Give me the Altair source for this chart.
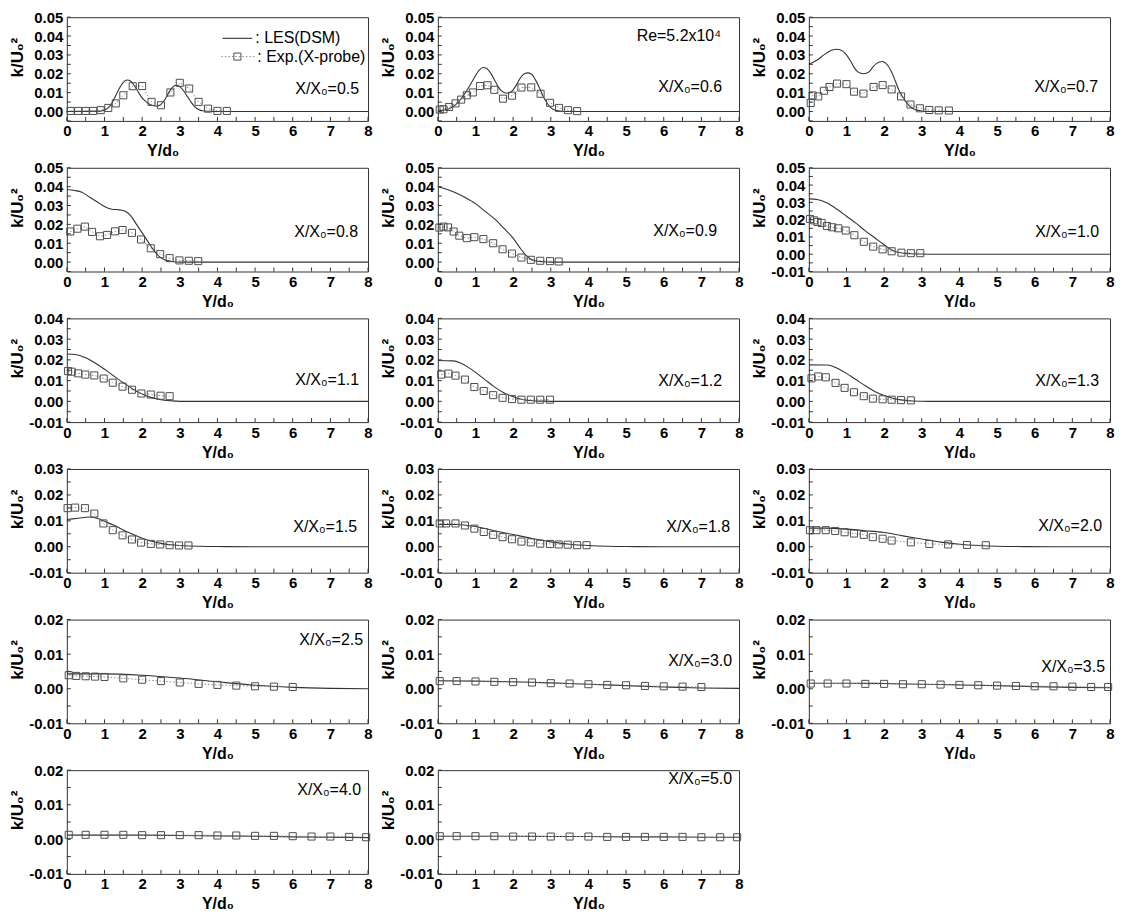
import altair as alt
import pandas as pd

# ---------------- data ----------------
panel_names = ["0.5", "0.6", "0.7", "0.8", "0.9", "1.0", "1.1", "1.2", "1.3",
               "1.5", "1.8", "2.0", "2.5", "3.0", "3.5", "4.0", "5.0"]
y_min = [-0.005, -0.005, -0.005, -0.005, -0.005, -0.01, -0.01, -0.01, -0.01,
         -0.01, -0.01, -0.01, -0.01, -0.01, -0.01, -0.01, -0.01]
y_max = [0.05, 0.05, 0.05, 0.05, 0.05, 0.05, 0.04, 0.04, 0.04,
         0.03, 0.03, 0.03, 0.02, 0.02, 0.02, 0.02, 0.02]

x_label_vals = [0, 1, 2, 3, 4, 5, 6, 7, 8]
x_tick_vals = [0, 0.5, 1, 1.5, 2, 2.5, 3, 3.5, 4, 4.5, 5, 5.5, 6, 6.5, 7, 7.5, 8]
y_label_vals = [-0.01, 0.0, 0.01, 0.02, 0.03, 0.04, 0.05]
y_tick_vals = [-0.01, -0.005, 0.0, 0.005, 0.01, 0.015, 0.02, 0.025, 0.03,
               0.035, 0.04, 0.045, 0.05]

# X/X0 = 0.5
les_x_05 = [0, 0.9, 1.0, 1.1, 1.2, 1.3, 1.4, 1.5, 1.6, 1.7, 1.8, 1.9, 2.0, 2.1, 2.2,
            2.3, 2.4, 2.5, 2.6, 2.7, 2.8, 2.9, 3.0, 3.1, 3.2, 3.3, 3.4, 3.5, 3.6,
            3.8, 4.0, 8.0]
les_y_05 = [0, 0.0002, 0.0008, 0.002, 0.0045, 0.0085, 0.0125, 0.0155, 0.0167, 0.016,
            0.0135, 0.0102, 0.0072, 0.0052, 0.0038, 0.003, 0.0028, 0.0038, 0.0062,
            0.0098, 0.0127, 0.0139, 0.0132, 0.011, 0.008, 0.005, 0.0025, 0.0011,
            0.0004, 0.0001, 0, 0]
exp_x_05 = [0.1, 0.3, 0.5, 0.7, 0.9, 1.1, 1.3, 1.5, 1.75, 2.0, 2.25, 2.5, 2.75, 3.0,
            3.25, 3.5, 3.75, 4.0, 4.25]
exp_y_05 = [0.0003, 0.0003, 0.0003, 0.0003, 0.0007, 0.0019, 0.0043, 0.0086, 0.0134,
            0.0135, 0.0051, 0.0033, 0.0101, 0.0152, 0.0122, 0.0051, 0.0015, 0.0003,
            0.0003]

# X/X0 = 0.6
les_x_06 = [0, 0.3, 0.5, 0.7, 0.9, 1.0, 1.1, 1.2, 1.3, 1.4, 1.5, 1.6, 1.7, 1.8, 1.9,
            2.0, 2.1, 2.2, 2.3, 2.4, 2.5, 2.6, 2.7, 2.8, 2.9, 3.0, 3.1, 3.3, 3.5, 8.0]
les_y_06 = [0.0003, 0.0015, 0.004, 0.009, 0.0155, 0.019, 0.022, 0.0233, 0.0228,
            0.0205, 0.017, 0.0132, 0.0108, 0.0098, 0.0098, 0.0115, 0.0145, 0.018,
            0.02, 0.0205, 0.0195, 0.0165, 0.0125, 0.008, 0.0045, 0.002, 0.0008,
            0.0001, 0, 0]
exp_x_06 = [0.05, 0.15, 0.3, 0.47, 0.62, 0.77, 0.93, 1.12, 1.32, 1.5, 1.73, 1.97,
            2.22, 2.48, 2.73, 2.98, 3.22, 3.46, 3.7]
exp_y_06 = [0.001, 0.0012, 0.0024, 0.0043, 0.0063, 0.0086, 0.0101, 0.0135, 0.0139,
            0.0115, 0.0068, 0.0084, 0.0127, 0.0128, 0.0094, 0.0046, 0.0019, 0.0007,
            0.0002]

# X/X0 = 0.7
les_x_07 = [0, 0.2, 0.4, 0.6, 0.75, 0.9, 1.0, 1.1, 1.2, 1.3, 1.45, 1.6, 1.7, 1.8,
            1.95, 2.05, 2.2, 2.3, 2.4, 2.5, 2.6, 2.7, 2.8, 3.0, 3.2, 8.0]
les_y_07 = [0.025, 0.027, 0.030, 0.0325, 0.033, 0.032, 0.030, 0.027, 0.0235, 0.021,
            0.020, 0.021, 0.0235, 0.0255, 0.0265, 0.0255, 0.021, 0.016, 0.011,
            0.0075, 0.0045, 0.0025, 0.0012, 0.0003, 0, 0]
exp_x_07 = [0.05, 0.1, 0.25, 0.4, 0.55, 0.75, 1.0, 1.2, 1.45, 1.72, 1.96, 2.2, 2.45,
            2.7, 2.95, 3.2, 3.45, 3.72]
exp_y_07 = [0.0045, 0.0085, 0.008, 0.011, 0.013, 0.0148, 0.0145, 0.0105, 0.0095,
            0.013, 0.014, 0.0117, 0.008, 0.0037, 0.0017, 0.0008, 0.0006, 0.0005]

# X/X0 = 0.8
les_x_08 = [0, 0.2, 0.4, 0.6, 0.8, 1.0, 1.2, 1.4, 1.55, 1.7, 1.85, 2.0, 2.15, 2.3,
            2.45, 2.6, 2.8, 3.0, 8.0]
les_y_08 = [0.0385, 0.038, 0.037, 0.0345, 0.032, 0.0295, 0.028, 0.0277, 0.027,
            0.0245, 0.020, 0.0155, 0.011, 0.0065, 0.003, 0.0012, 0.0003, 0, 0]
exp_x_08 = [0.09, 0.28, 0.48, 0.67, 0.88, 1.07, 1.28, 1.48, 1.73, 1.97, 2.23, 2.48,
            2.73, 2.99, 3.24, 3.49]
exp_y_08 = [0.0162, 0.0177, 0.0188, 0.016, 0.0137, 0.0144, 0.0163, 0.017, 0.0155,
            0.012, 0.0073, 0.0042, 0.0021, 0.0009, 0.0007, 0.0005]

# X/X0 = 0.9
les_x_09 = [0, 0.25, 0.5, 0.75, 1.0, 1.25, 1.5, 1.75, 2.0, 2.15, 2.3, 2.45, 2.6, 2.8,
            3.0, 8.0]
les_y_09 = [0.040, 0.0385, 0.0365, 0.034, 0.031, 0.027, 0.023, 0.018, 0.0127,
            0.0085, 0.0045, 0.0018, 0.0006, 0.0002, 0, 0]
exp_x_09 = [0.04, 0.15, 0.27, 0.42, 0.57, 0.77, 0.97, 1.21, 1.47, 1.72, 1.97, 2.22,
            2.47, 2.72, 2.98, 3.21]
exp_y_09 = [0.0183, 0.0188, 0.0184, 0.0162, 0.014, 0.0127, 0.0132, 0.0122, 0.010,
            0.0068, 0.0045, 0.0024, 0.0012, 0.0007, 0.0005, 0.0003]

# X/X0 = 1.0
les_x_10 = [0, 0.25, 0.5, 0.75, 1.0, 1.25, 1.5, 1.75, 2.0, 2.2, 2.4, 2.7, 3.0, 3.4, 8.0]
les_y_10 = [0.032, 0.0315, 0.0295, 0.026, 0.022, 0.018, 0.0135, 0.0095, 0.0055,
            0.0025, 0.001, 0.0003, 0.0001, 0, 0]
exp_x_10 = [0.03, 0.14, 0.23, 0.34, 0.48, 0.62, 0.78, 0.98, 1.21, 1.46, 1.71, 1.96,
            2.2, 2.46, 2.71, 2.96]
exp_y_10 = [0.0204, 0.0196, 0.0187, 0.0181, 0.0163, 0.0156, 0.015, 0.0137, 0.011,
            0.0072, 0.0044, 0.0028, 0.0017, 0.0009, 0.0006, 0.0006]

# X/X0 = 1.1
les_x_11 = [0, 0.25, 0.5, 0.75, 1.0, 1.25, 1.5, 1.75, 2.0, 2.25, 2.5, 2.75, 3.0, 8.0]
les_y_11 = [0.0228, 0.0225, 0.021, 0.0185, 0.0155, 0.0122, 0.009, 0.006, 0.0035,
            0.0018, 0.0008, 0.0003, 0, 0]
exp_x_11 = [0.03, 0.13, 0.3, 0.49, 0.73, 0.98, 1.22, 1.48, 1.73, 1.98, 2.23, 2.49, 2.73]
exp_y_11 = [0.0146, 0.0143, 0.0135, 0.0129, 0.0125, 0.011, 0.009, 0.0071, 0.0056,
            0.0038, 0.0033, 0.0027, 0.0025]

# X/X0 = 1.2
les_x_12 = [0, 0.4, 0.6, 0.8, 1.0, 1.25, 1.5, 1.75, 2.0, 2.25, 2.5, 2.8, 3.2, 8.0]
les_y_12 = [0.0197, 0.0195, 0.0185, 0.0165, 0.014, 0.0105, 0.007, 0.0042, 0.0022,
            0.0009, 0.0003, 0.0001, 0, 0]
exp_x_12 = [0.09, 0.28, 0.47, 0.72, 0.97, 1.22, 1.47, 1.72, 1.97, 2.22, 2.47, 2.72, 2.98]
exp_y_12 = [0.0129, 0.0134, 0.0124, 0.0105, 0.0069, 0.005, 0.003, 0.0017, 0.0011,
            0.0008, 0.0008, 0.0008, 0.0008]

# X/X0 = 1.3
les_x_13 = [0, 0.5, 0.75, 1.0, 1.25, 1.5, 1.75, 2.0, 2.25, 2.5, 2.75, 3.2, 8.0]
les_y_13 = [0.0176, 0.0175, 0.016, 0.0135, 0.0105, 0.0075, 0.0048, 0.0028, 0.0014,
            0.0006, 0.0002, 0, 0]
exp_x_13 = [0.07, 0.25, 0.45, 0.71, 0.95, 1.2, 1.46, 1.7, 1.96, 2.2, 2.45, 2.71]
exp_y_13 = [0.0111, 0.012, 0.0116, 0.0089, 0.0065, 0.0044, 0.0025, 0.0013, 0.001,
            0.0008, 0.0006, 0.0005]

# X/X0 = 1.5
les_x_15 = [0, 0.3, 0.6, 0.8, 1.0, 1.25, 1.5, 1.75, 2.0, 2.25, 2.5, 2.75, 3.0, 3.5,
            4.0, 5.0, 8.0]
les_y_15 = [0.0105, 0.011, 0.0115, 0.011, 0.0098, 0.0083, 0.0065, 0.0048, 0.0033,
            0.0021, 0.0013, 0.0008, 0.0005, 0.0002, 0.0001, 0, 0]
exp_x_15 = [0.02, 0.22, 0.48, 0.73, 0.97, 1.22, 1.48, 1.73, 1.97, 2.23, 2.48, 2.73,
            2.98, 3.23]
exp_y_15 = [0.0149, 0.0151, 0.0149, 0.0128, 0.009, 0.0064, 0.0044, 0.0028, 0.0016,
            0.0011, 0.0009, 0.0006, 0.0005, 0.0005]

# X/X0 = 1.8
les_x_18 = [0, 0.5, 1.0, 1.5, 2.0, 2.5, 3.0, 3.5, 4.0, 4.5, 5.0, 6.0, 8.0]
les_y_18 = [0.0086, 0.0086, 0.0078, 0.0062, 0.0047, 0.0032, 0.0019, 0.001, 0.0005,
            0.0002, 0.0001, 0, 0]
exp_x_18 = [0.05, 0.22, 0.47, 0.72, 0.97, 1.22, 1.47, 1.72, 1.97, 2.22, 2.47, 2.72,
            2.98, 3.21, 3.45, 3.7, 3.95]
exp_y_18 = [0.009, 0.009, 0.009, 0.0082, 0.007, 0.0057, 0.0046, 0.0037, 0.0029,
            0.002, 0.0017, 0.0012, 0.0011, 0.0009, 0.0008, 0.0006, 0.0006]

# X/X0 = 2.0
les_x_20 = [0, 0.5, 1.0, 1.5, 2.0, 2.5, 3.0, 3.5, 4.0, 4.5, 5.0, 5.5, 6.5, 8.0]
les_y_20 = [0.0072, 0.0072, 0.0068, 0.0062, 0.0055, 0.0042, 0.003, 0.0018, 0.001,
            0.0005, 0.0002, 0.0001, 0, 0]
exp_x_20 = [0.03, 0.2, 0.45, 0.7, 0.95, 1.2, 1.46, 1.7, 1.96, 2.2, 2.71, 3.2, 3.7,
            4.2, 4.7]
exp_y_20 = [0.0064, 0.0064, 0.0064, 0.0061, 0.0056, 0.0051, 0.0046, 0.0037, 0.0031,
            0.0024, 0.0017, 0.0011, 0.0009, 0.0007, 0.0006]

# X/X0 = 2.5
les_x_25 = [0, 1.0, 2.0, 3.0, 4.0, 5.0, 6.0, 7.0, 8.0]
les_y_25 = [0.0043, 0.0043, 0.0039, 0.0031, 0.002, 0.001, 0.0004, 0.0001, 0]
exp_x_25 = [0.05, 0.25, 0.5, 0.75, 1.0, 1.5, 2.0, 2.5, 3.0, 3.5, 4.0, 4.5, 5.0, 5.5, 6.0]
exp_y_25 = [0.0039, 0.0037, 0.0036, 0.0035, 0.0034, 0.003, 0.0026, 0.0022, 0.0018,
            0.0014, 0.0011, 0.0009, 0.0007, 0.0006, 0.0005]

# X/X0 = 3.0
les_x_30 = [0, 1.0, 2.0, 3.0, 4.0, 5.0, 6.0, 7.0, 8.0]
les_y_30 = [0.0023, 0.0022, 0.002, 0.0017, 0.0013, 0.0009, 0.0005, 0.0002, 0.0001]
exp_x_30 = [0.05, 0.5, 1.0, 1.5, 2.0, 2.5, 3.0, 3.5, 4.0, 4.5, 5.0, 5.5, 6.0, 6.5, 7.0]
exp_y_30 = [0.0022, 0.0022, 0.0021, 0.002, 0.0019, 0.0018, 0.0016, 0.0015, 0.0013,
            0.0011, 0.001, 0.0008, 0.0007, 0.0006, 0.0005]

# X/X0 = 3.5
les_x_35 = [0, 1.0, 2.0, 3.0, 4.0, 5.0, 6.0, 7.0, 8.0]
les_y_35 = [0.0016, 0.0016, 0.0015, 0.0013, 0.0011, 0.0009, 0.0006, 0.0004, 0.0003]
exp_x_35 = [0.05, 0.5, 1.0, 1.5, 2.0, 2.5, 3.0, 3.5, 4.0, 4.5, 5.0, 5.5, 6.0, 6.5,
            7.0, 7.5, 7.95]
exp_y_35 = [0.0015, 0.0015, 0.0015, 0.0014, 0.0014, 0.0013, 0.0013, 0.0012, 0.0011,
            0.001, 0.0009, 0.0008, 0.0007, 0.0007, 0.0006, 0.0005, 0.0005]

# X/X0 = 4.0
les_x_40 = [0, 1.0, 2.0, 3.0, 4.0, 5.0, 6.0, 7.0, 8.0]
les_y_40 = [0.0012, 0.0012, 0.0012, 0.0011, 0.001, 0.0009, 0.0007, 0.0006, 0.0005]
exp_x_40 = [0.05, 0.5, 1.0, 1.5, 2.0, 2.5, 3.0, 3.5, 4.0, 4.5, 5.0, 5.5, 6.0, 6.5,
            7.0, 7.5, 7.95]
exp_y_40 = [0.0013, 0.0013, 0.0013, 0.0013, 0.0012, 0.0012, 0.0012, 0.0012, 0.0011,
            0.0011, 0.001, 0.001, 0.0009, 0.0008, 0.0008, 0.0007, 0.0006]

# X/X0 = 5.0
les_x_50 = [0, 1.0, 2.0, 3.0, 4.0, 5.0, 6.0, 7.0, 8.0]
les_y_50 = [0.0009, 0.0009, 0.0009, 0.0008, 0.0008, 0.0007, 0.0007, 0.0006, 0.0006]
exp_x_50 = [0.05, 0.5, 1.0, 1.5, 2.0, 2.5, 3.0, 3.5, 4.0, 4.5, 5.0, 5.5, 6.0, 6.5,
            7.0, 7.5, 7.95]
exp_y_50 = [0.0009, 0.0009, 0.0009, 0.0009, 0.0008, 0.0008, 0.0008, 0.0008, 0.0008,
            0.0007, 0.0007, 0.0007, 0.0007, 0.0007, 0.0006, 0.0006, 0.0006]

les_x = [les_x_05, les_x_06, les_x_07, les_x_08, les_x_09, les_x_10, les_x_11,
         les_x_12, les_x_13, les_x_15, les_x_18, les_x_20, les_x_25, les_x_30,
         les_x_35, les_x_40, les_x_50]
les_y = [les_y_05, les_y_06, les_y_07, les_y_08, les_y_09, les_y_10, les_y_11,
         les_y_12, les_y_13, les_y_15, les_y_18, les_y_20, les_y_25, les_y_30,
         les_y_35, les_y_40, les_y_50]
exp_x = [exp_x_05, exp_x_06, exp_x_07, exp_x_08, exp_x_09, exp_x_10, exp_x_11,
         exp_x_12, exp_x_13, exp_x_15, exp_x_18, exp_x_20, exp_x_25, exp_x_30,
         exp_x_35, exp_x_40, exp_x_50]
exp_y = [exp_y_05, exp_y_06, exp_y_07, exp_y_08, exp_y_09, exp_y_10, exp_y_11,
         exp_y_12, exp_y_13, exp_y_15, exp_y_18, exp_y_20, exp_y_25, exp_y_30,
         exp_y_35, exp_y_40, exp_y_50]

# ---------------- styling ----------------
W, H = 302, 104
SY = H / 108.0
FONT = "Liberation Sans"
# label position inside each panel (pixels from the panel's top-left corner)
label_px = [293, 285, 290, 292, 280, 291, 293, 285, 291, 291, 293, 294, 297, 295, 297, 295, 295]
label_py = [75, 73, 73, 67, 66, 67, 64, 65, 65, 60, 60, 59, 21, 43, 49, 21, 9]
xtitle_x = [96] + [W / 2] * 16

LES_COLOR = "#333333"
EXP_COLOR = "#4d4d4d"
DOT_COLOR = "#8c8c8c"

ylabel_expr = "(datum.value < -0.0001 ? '-' : '') + format(abs(datum.value), '.2f')"


def panel(i):
    lo, hi = y_min[i], y_max[i]
    xs = alt.Scale(domain=[0, 8], nice=False, zero=False)
    ys = alt.Scale(domain=[lo, hi], nice=False, zero=False)
    ylabs = [v for v in y_label_vals if lo - 1e-9 <= v <= hi + 1e-9]
    yticks = [v for v in y_tick_vals if lo - 1e-9 <= v <= hi + 1e-9]

    x_axis = alt.Axis(values=x_label_vals, format="d", title="Y/d₀", labelFlush=False,
                      labelPadding=3, titleX=xtitle_x[i], titleY=30, titleFontSize=16,
                      titleBaseline="middle", titleAlign="center")
    y_axis = alt.Axis(values=ylabs, labelExpr=ylabel_expr, title="k/U₀²",
                      labelOverlap=False, labelPadding=4, titleX=-49, titleFontSize=17,
                      titleY=H / 2 - 12, titleAngle=270, titleAlign="center",
                      titleBaseline="middle")

    def X(f):
        return alt.X(f, scale=xs, axis=x_axis)

    def Y(f):
        return alt.Y(f, scale=ys, axis=y_axis)

    les_df = pd.DataFrame({"x": les_x[i], "y": les_y[i]})
    exp_df = pd.DataFrame({"x": exp_x[i], "y": exp_y[i]})

    les = alt.Chart(les_df).mark_line(color=LES_COLOR, strokeWidth=1.1,
                                      interpolate="monotone", clip=True).encode(
        x=X("x:Q"), y=Y("y:Q"))
    exp_line = alt.Chart(exp_df).mark_line(color=DOT_COLOR, strokeWidth=1,
                                           strokeDash=[1.5, 2]).encode(
        x=X("x:Q"), y=Y("y:Q"))
    exp_pts = alt.Chart(exp_df).mark_point(shape="square", size=50, filled=False,
                                           color=EXP_COLOR, strokeWidth=1,
                                           opacity=1).encode(
        x=X("x:Q"), y=Y("y:Q"))
    xt = alt.Chart(pd.DataFrame({"x": x_tick_vals})).mark_rule(
        color="#333333", strokeWidth=1).encode(
        x=X("x:Q"), y=alt.value(H), y2=alt.value(H - 4))
    yt = alt.Chart(pd.DataFrame({"y": yticks})).mark_rule(
        color="#333333", strokeWidth=1).encode(
        y=Y("y:Q"), x=alt.value(0), x2=alt.value(4))
    lab = alt.Chart(pd.DataFrame({"t": ["X/X₀=" + panel_names[i]]})).mark_text(
        font=FONT, fontSize=16, align="right", baseline="middle", color="black").encode(
        text="t:N", x=alt.value(label_px[i]), y=alt.value(label_py[i] * SY))

    layers = [les, exp_line, exp_pts, xt, yt, lab]

    if i == 0:
        leg_df = pd.DataFrame({"a": [": LES(DSM)"], "b": [": Exp.(X-probe)"]})
        layers += [
            alt.Chart(leg_df).mark_rule(color=LES_COLOR, strokeWidth=1.1).encode(
                x=alt.value(156), x2=alt.value(186), y=alt.value(22 * SY)),
            alt.Chart(leg_df).mark_text(font=FONT, fontSize=16, align="left",
                                        baseline="middle", color="black").encode(
                text="a:N", x=alt.value(189), y=alt.value(22 * SY)),
            alt.Chart(leg_df).mark_rule(color=DOT_COLOR, strokeWidth=1,
                                        strokeDash=[1.5, 2]).encode(
                x=alt.value(155), x2=alt.value(189), y=alt.value(41 * SY)),
            alt.Chart(leg_df).mark_point(shape="square", size=50, filled=False,
                                         color=EXP_COLOR, strokeWidth=1,
                                         opacity=1).encode(
                x=alt.value(171), y=alt.value(41 * SY)),
            alt.Chart(leg_df).mark_text(font=FONT, fontSize=16, align="left",
                                        baseline="middle", color="black").encode(
                text="b:N", x=alt.value(191), y=alt.value(41 * SY)),
        ]
    if i == 1:
        re_df = pd.DataFrame({"t": ["Re=5.2x10⁴"]})
        layers.append(alt.Chart(re_df).mark_text(
            font=FONT, fontSize=16, align="right", baseline="middle",
            color="black").encode(text="t:N", x=alt.value(284), y=alt.value(20 * SY)))

    return alt.layer(*layers).properties(width=W, height=H)


chart = alt.concat(*[panel(i) for i in range(len(panel_names))], columns=3,
                   spacing={"row": 0, "column": 6}).properties(
    padding={"left": 0, "top": 0, "right": 0, "bottom": 0}
).configure_view(
    stroke="#333333", strokeWidth=1
).configure_axis(
    domain=False, ticks=False, grid=False,
    labelFont=FONT, labelFontWeight="bold", labelFontSize=15, labelColor="black",
    titleFont=FONT, titleFontWeight="bold", titleColor="black"
)

chart.save("out.html", embed_options={"renderer": "svg", "actions": False})
